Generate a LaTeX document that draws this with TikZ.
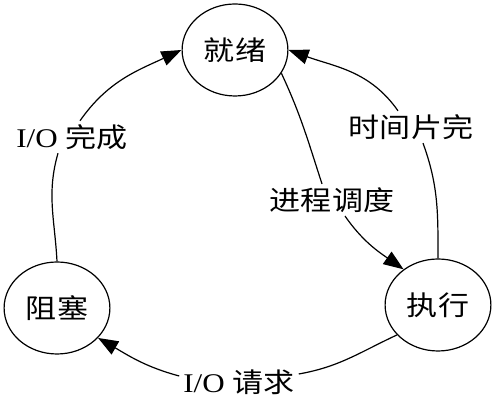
\documentclass[tikz,border=0pt]{standalone}
\usepackage{fontspec}
\setmainfont{Liberation Serif}
\newfontfamily\cjk{Noto Sans CJK SC}
\usetikzlibrary{arrows.meta}

\begin{document}
\begin{tikzpicture}[x=1pt,y=1pt,line width=1.2pt,
	state/.style={circle, draw, xscale=1.15, minimum size=92pt, inner sep=0pt, font=\fontsize{27}{30}\selectfont\cjk},
	lbl/.style={xscale=1.15, inner sep=3pt, font=\fontsize{27}{30}\selectfont},
	arr/.style={-{Triangle[length=20pt,width=15pt]}}]
	\useasboundingbox (0,0) rectangle (501,403);

	\node[state](jiuxu) at (235,353) {就绪};
	\node[state](zusai) at (57,95) {阻塞};
	\node[state](zhixing) at (438,98) {执行};

	\node[lbl](wancheng) at (72,266) {I/O {\cjk 完成}};
	\node[lbl](shijian) at (411,276) {\cjk 时间片完};
	\node[lbl](diaodu) at (332,203) {\cjk 进程调度};
	\node[lbl](qingqiu) at (239,21) {I/O {\cjk 请求}};

	\draw (zusai.north) to[out=93,in=-106] ([xshift=-14pt]wancheng.south);
	\draw[arr] ([xshift=8pt]wancheng.north) to[out=55,in=205] (jiuxu.west);

	\draw (zhixing.north) to[out=90,in=-70] ([xshift=12pt]shijian.south);
	\draw[arr] ([xshift=-13pt]shijian.north) to[out=125,in=-20] (jiuxu.east);

	\draw (jiuxu.-30) to[out=-65,in=108] ([xshift=-10pt]diaodu.north);
	\draw[arr] ([xshift=13pt]diaodu.south) to[out=-55,in=145] (zhixing.130);

	\draw (zhixing.220) to[out=205,in=10] ([yshift=8pt]qingqiu.east);
	\draw[arr] ([yshift=6pt]qingqiu.west) to[out=165,in=-30] (zusai.-40);
\end{tikzpicture}
\end{document}
